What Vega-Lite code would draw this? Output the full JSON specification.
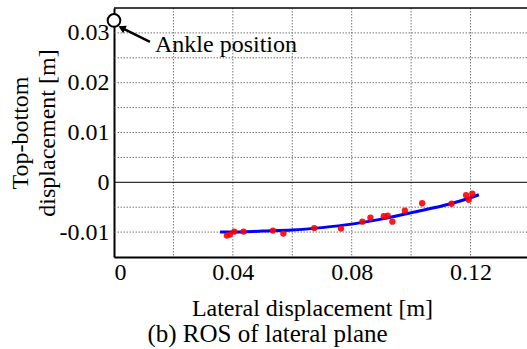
{
  "$schema": "https://vega.github.io/schema/vega-lite/v6.json",
  "width": 413,
  "height": 249,
  "autosize": {"type": "none"},
  "padding": {"left": 114, "top": 8, "right": 0, "bottom": 92},
  "background": "white",
  "config": {
    "font": "Liberation Serif, Times New Roman, serif",
    "view": {"stroke": null},
    "axis": {
      "labelFont": "Liberation Serif, Times New Roman, serif",
      "titleFont": "Liberation Serif, Times New Roman, serif",
      "labelFontSize": 24,
      "titleFontSize": 24,
      "titleFontWeight": "normal",
      "labelColor": "#000",
      "titleColor": "#000",
      "domainColor": "#000",
      "domainWidth": 2,
      "grid": false,
      "ticks": false,
      "zindex": 0
    }
  },
  "title": {
    "text": "(b) ROS of lateral plane",
    "orient": "bottom",
    "anchor": "middle",
    "font": "Liberation Serif, Times New Roman, serif",
    "fontSize": 25,
    "fontWeight": "normal",
    "color": "#000",
    "offset": 2,
    "dx": -53
  },
  "datasets": {
    "pts": [
      {"x": 0.038, "y": -0.0107},
      {"x": 0.039, "y": -0.0105},
      {"x": 0.0405, "y": -0.0099},
      {"x": 0.0436, "y": -0.0099},
      {"x": 0.0535, "y": -0.0097},
      {"x": 0.057, "y": -0.0103},
      {"x": 0.0674, "y": -0.0092},
      {"x": 0.0764, "y": -0.0093},
      {"x": 0.0836, "y": -0.0079},
      {"x": 0.0863, "y": -0.0071},
      {"x": 0.0908, "y": -0.0068},
      {"x": 0.0921, "y": -0.0067},
      {"x": 0.0937, "y": -0.0079},
      {"x": 0.0979, "y": -0.0057},
      {"x": 0.1037, "y": -0.0042},
      {"x": 0.1136, "y": -0.0043},
      {"x": 0.1185, "y": -0.0026},
      {"x": 0.1194, "y": -0.0035},
      {"x": 0.1206, "y": -0.0023}
    ],
    "fit": [
      {"x": 0.0357, "y": -0.0100},
      {"x": 0.04, "y": -0.0100},
      {"x": 0.05, "y": -0.0098},
      {"x": 0.06, "y": -0.0096},
      {"x": 0.07, "y": -0.0091},
      {"x": 0.08, "y": -0.0084},
      {"x": 0.09, "y": -0.0074},
      {"x": 0.10, "y": -0.0061},
      {"x": 0.1133, "y": -0.0043},
      {"x": 0.12, "y": -0.0031},
      {"x": 0.1228, "y": -0.0025}
    ],
    "ankle": [{"x": 0, "y": 0.0325}],
    "arrow": [{"x": 0.0121, "y": 0.0282, "x2": 0.0026, "y2": 0.0310}],
    "head": [{"x": 0.0026, "y": 0.0310}],
    "label": [{"x": 0.0138, "y": 0.0276, "text": "Ankle position"}],
    "zero": [{"y": 0}],
    "top": [{"y": 0.035}],
    "ygrid": [{"y": -0.01}, {"y": -0.005}, {"y": 0.005}, {"y": 0.01}, {"y": 0.015}, {"y": 0.02}, {"y": 0.025}, {"y": 0.03}],
    "xgrid": [{"x": 0.02}, {"x": 0.04}, {"x": 0.06}, {"x": 0.08}, {"x": 0.1}, {"x": 0.12}]
  },
  "layer": [
    {
      "data": {"name": "ygrid"},
      "mark": {"type": "rule", "color": "#777", "strokeWidth": 1, "strokeDash": [1.5, 1.5]},
      "encoding": {
        "y": {
          "field": "y",
          "type": "quantitative",
          "scale": {"domain": [-0.015, 0.035], "nice": false, "zero": false},
          "axis": {
            "values": [-0.01, 0, 0.01, 0.02, 0.03],
            "labelExpr": "datum.value < 0 ? '-' + format(-datum.value, '~g') : format(datum.value, '~g')",
            "labelPadding": 5,
            "title": ["Top-bottom", "displacement [m]"],
            "titleLineHeight": 27,
            "titlePadding": 0
          }
        }
      }
    },
    {
      "data": {"name": "xgrid"},
      "mark": {"type": "rule", "color": "#777", "strokeWidth": 1, "strokeDash": [1.5, 1.5]},
      "encoding": {
        "x": {
          "field": "x",
          "type": "quantitative",
          "scale": {"domain": [0, 0.139], "nice": false, "zero": false},
          "axis": {
            "values": [0, 0.04, 0.08, 0.12],
            "labelExpr": "format(datum.value, '~g')",
            "labelPadding": 3,
            "title": "Lateral displacement [m]",
            "titlePadding": 12,
            "titleX": 198
          }
        }
      }
    },
    {
      "data": {"name": "zero"},
      "mark": {"type": "rule", "color": "#000", "strokeWidth": 1},
      "encoding": {"y": {"field": "y", "type": "quantitative"}}
    },
    {
      "data": {"name": "top"},
      "mark": {"type": "rule", "color": "#000", "strokeWidth": 1.5},
      "encoding": {"y": {"field": "y", "type": "quantitative"}}
    },
    {
      "data": {"name": "fit"},
      "mark": {"type": "line", "color": "#0000ff", "strokeWidth": 3, "interpolate": "monotone"},
      "encoding": {
        "x": {"field": "x", "type": "quantitative"},
        "y": {"field": "y", "type": "quantitative"}
      }
    },
    {
      "data": {"name": "pts"},
      "mark": {"type": "circle", "color": "#ff0000", "size": 40, "opacity": 0.9},
      "encoding": {
        "x": {"field": "x", "type": "quantitative"},
        "y": {"field": "y", "type": "quantitative"}
      }
    },
    {
      "data": {"name": "arrow"},
      "mark": {"type": "rule", "color": "#000", "strokeWidth": 2.5},
      "encoding": {
        "x": {"field": "x", "type": "quantitative"},
        "y": {"field": "y", "type": "quantitative"},
        "x2": {"field": "x2"},
        "y2": {"field": "y2"}
      }
    },
    {
      "data": {"name": "head"},
      "mark": {"type": "point", "shape": "triangle-up", "filled": true, "color": "#000", "size": 70, "angle": 296, "opacity": 1},
      "encoding": {
        "x": {"field": "x", "type": "quantitative"},
        "y": {"field": "y", "type": "quantitative"}
      }
    },
    {
      "data": {"name": "ankle"},
      "mark": {"type": "point", "shape": "circle", "filled": false, "stroke": "#000", "fill": "white", "fillOpacity": 1, "strokeWidth": 2, "size": 160, "opacity": 1},
      "encoding": {
        "x": {"field": "x", "type": "quantitative"},
        "y": {"field": "y", "type": "quantitative"}
      }
    },
    {
      "data": {"name": "label"},
      "mark": {"type": "text", "align": "left", "baseline": "middle", "fontSize": 24, "font": "Liberation Serif, Times New Roman, serif", "color": "#000"},
      "encoding": {
        "x": {"field": "x", "type": "quantitative"},
        "y": {"field": "y", "type": "quantitative"},
        "text": {"field": "text"}
      }
    }
  ]
}
